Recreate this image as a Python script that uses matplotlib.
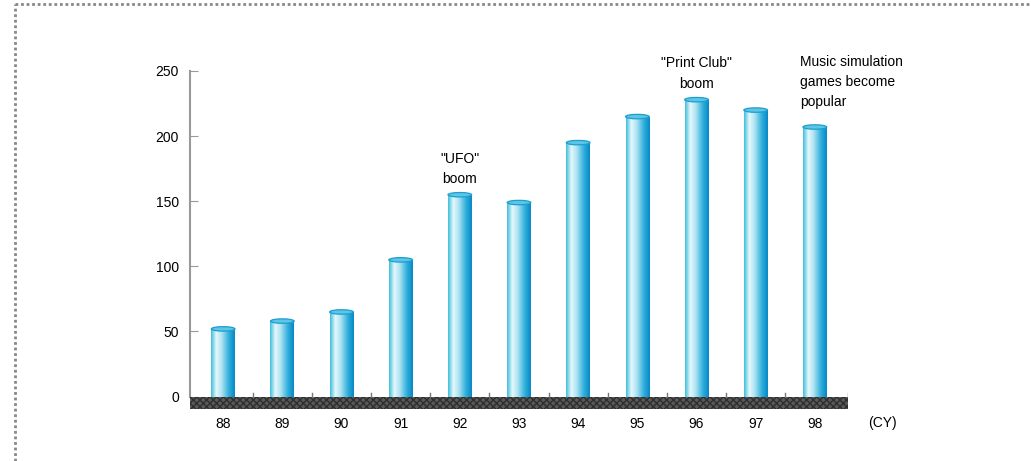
import numpy as np
import matplotlib
matplotlib.use("Agg")
import matplotlib.pyplot as plt
from matplotlib.patches import Rectangle, Ellipse
from matplotlib.colors import LinearSegmentedColormap
from matplotlib.lines import Line2D

# dados
anos = ["88", "89", "90", "91", "92", "93", "94", "95", "96", "97", "98"]
valores = [52, 58, 65, 105, 155, 149, 195, 215, 228, 220, 207]
yticks = [0, 50, 100, 150, 200, 250]
notas = {"92": '"UFO"\nboom', "96": '"Print Club"\nboom'}
nota_98 = "Music simulation\ngames become\npopular"

plt.rcParams["font.family"] = ["Liberation Sans", "DejaVu Sans"]

fig = plt.figure(figsize=(10.31, 4.61), dpi=100)
ax = fig.add_axes([0.1843, 0.1128, 0.6382, 0.7332])

cmap = LinearSegmentedColormap.from_list(
    "cil", [(0, "#40c0dc"), (0.22, "#e6f8fc"), (0.45, "#ace2f2"),
            (0.75, "#30b0dc"), (1, "#0888c6")])
grad = np.linspace(0, 1, 64).reshape(1, -1)

x = np.arange(len(anos))
w = 0.4
base = -9.5
for xi, v in zip(x, valores):
    bar = ax.bar(xi, v, width=w, color="#60c8e4", linewidth=0, zorder=2)[0]
    im = ax.imshow(grad, cmap=cmap, aspect="auto", zorder=3,
                   extent=(xi - w / 2, xi + w / 2, 0, v))
    im.set_clip_path(bar)
    ax.add_patch(Ellipse((xi, v), w, 3.4, facecolor="#5cc6e4",
                         edgecolor="#1c9ed0", lw=0.9, zorder=4))

# faixa escura da base
ax.add_patch(Rectangle((-0.56, base), 11.12, -base, facecolor="#5a5a5a",
                       edgecolor="#2e2e2e", hatch="xxxxx", lw=0, zorder=5))
for xm in list(np.arange(0.5, 10, 1)) + [10.56]:
    ax.plot([xm, xm], [0, 3], color="#777777", lw=1, zorder=5)

ax.set_xlim(-0.56, 10.56)
ax.set_ylim(base, 250)
ax.set_yticks(yticks)
ax.set_yticklabels([str(t) for t in yticks], fontsize=10)
ax.set_xticks(x)
ax.set_xticklabels(anos, fontsize=10)
ax.tick_params(axis="x", length=0, pad=6)
ax.tick_params(axis="y", direction="in", length=6, color="#999999", pad=8)
for s in ["top", "right", "bottom"]:
    ax.spines[s].set_visible(False)
ax.spines["left"].set_color("#999999")
ax.spines["left"].set_linewidth(1.5)
ax.spines["left"].set_bounds(0, 250)

ax.text(10.9, -15, "(CY)", fontsize=10, ha="left", va="top")

for ano, txt in notas.items():
    i = anos.index(ano)
    ax.text(i, valores[i] + 7, txt, fontsize=10, ha="center", va="bottom",
            linespacing=1.55)
ax.text(9.75, 262, nota_98, fontsize=10, ha="left", va="top", linespacing=1.55,
        clip_on=False)

# moldura pontilhada
fig.add_artist(Line2D([15 / 1031, 1], [1 - 4 / 461, 1 - 4 / 461],
                      color="#888888", lw=2, ls=(0, (1, 1))))
fig.add_artist(Line2D([15 / 1031, 15 / 1031], [0, 1 - 4 / 461],
                      color="#888888", lw=2, ls=(0, (1, 1))))

fig.savefig("out.png", dpi=100)
